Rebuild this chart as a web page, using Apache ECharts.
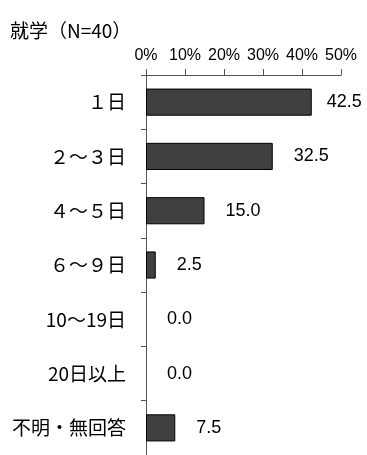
<!DOCTYPE html>
<html><head><meta charset="utf-8">
<script src="https://cdn.jsdelivr.net/npm/echarts@6/dist/echarts.min.js"></script>
<style>html,body{margin:0;padding:0;background:#fff}#c{width:367px;height:455px}</style>
</head><body><div id="c"></div>
<script>
const title = '就学（N=40）';
const categories = ['１日', '２～３日', '４～５日', '６～９日', '10～19日', '20日以上', '不明・無回答'];
const values = [42.5, 32.5, 15.0, 2.5, 0.0, 0.0, 7.5];
const xTicks = [0, 10, 20, 30, 40, 50];

const cjk = '"Noto Sans CJK JP", "Noto Sans", sans-serif';
const num = '"Liberation Sans", Arial, sans-serif';

const seriesData = values.map((v, i) => {
  const item = {value: v};
  if (v === 0) item.itemStyle = {borderWidth: 0};
  if (i === 0) item.label = {distance: 15};
  return item;
});

const chart = echarts.init(document.getElementById('c'), null, {renderer: 'canvas'});
chart.setOption({
  animation: false,
  backgroundColor: '#fff',
  title: {text: title, left: 5, top: 16, textStyle: {fontFamily: cjk, fontSize: 19, fontWeight: 'normal', color: '#000'}},
  grid: {left: 146, right: 26, top: 75, bottom: -12, containLabel: false},
  xAxis: {
    type: 'value', position: 'top', min: xTicks[0], max: xTicks[xTicks.length - 1], interval: 10,
    axisLine: {show: true, lineStyle: {color: '#555', width: 1}},
    axisTick: {show: true, length: 6, lineStyle: {color: '#555'}},
    splitLine: {show: false},
    axisLabel: {margin: 11, fontFamily: num, fontSize: 16, color: '#000', formatter: v => v + '%'}
  },
  yAxis: {
    type: 'category', inverse: true, data: categories,
    axisLine: {show: true, lineStyle: {color: '#555', width: 1}},
    axisTick: {show: true, length: 5, alignWithLabel: false, lineStyle: {color: '#555'}},
    axisLabel: {margin: 20, fontFamily: cjk, fontSize: 19, color: '#000'}
  },
  series: [{
    type: 'bar', data: seriesData, barCategoryGap: '50%',
    itemStyle: {color: '#404040', borderColor: '#000', borderWidth: 1},
    label: {show: true, position: 'right', distance: 21, fontFamily: num, fontSize: 18, color: '#000',
      formatter: p => p.value.toFixed(1)}
  }]
});
</script></body></html>
